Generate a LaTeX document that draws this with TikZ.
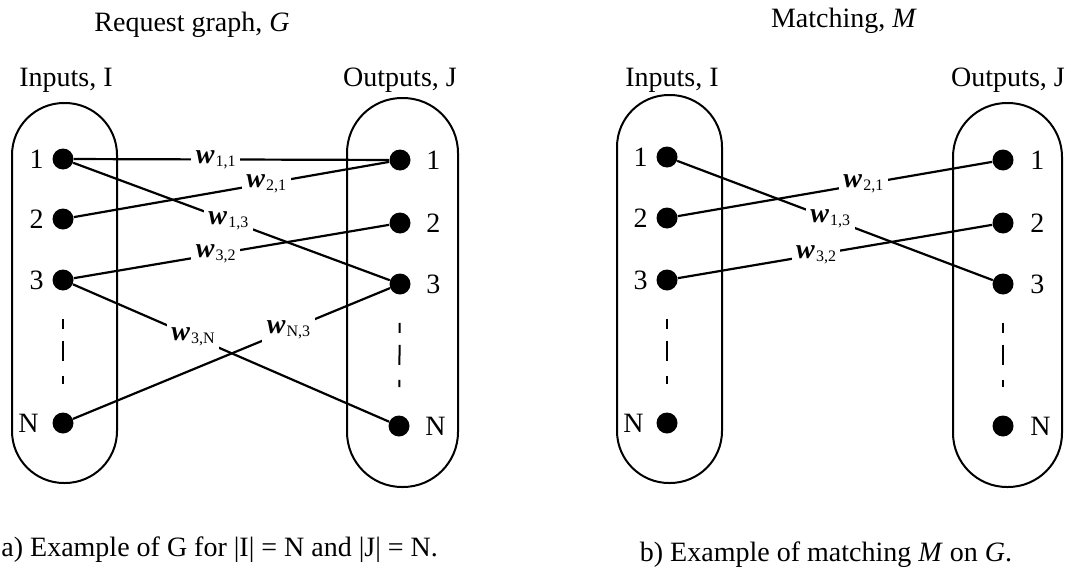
\documentclass[tikz,border=0pt]{standalone}
\usepackage{fontspec}
\setmainfont{Liberation Serif}
\newcommand\figfont{\fontsize{14pt}{16pt}\selectfont}
\newcommand\wlab[1]{{\bfseries\itshape w}\kern0.6pt\raisebox{-1.5pt}{\fontsize{8pt}{9pt}\selectfont #1}}
\begin{document}
\begin{tikzpicture}[x=0.5pt,y=-0.5pt,
  dot/.style={circle,fill=black,inner sep=0pt,minimum size=10.5pt},
  boxline/.style={draw,line width=1pt},
  edge/.style={line width=1.1pt},
  wl/.style={fill=white,inner sep=2.2pt,font=\figfont},
  ellip/.style={line width=1pt,dash pattern=on 5pt off 6pt on 10pt off 7.5pt on 5pt off 20pt,shorten <=14pt,shorten >=14pt},
  txt/.style={font=\figfont,inner sep=0pt},
]
\useasboundingbox (0,0) rectangle (1071,573);

% containers
\draw[boxline,rounded corners=26pt] (12,103) rectangle (117,483);
\draw[boxline,rounded corners=27.5pt] (347,98) rectangle (458,487);
\draw[boxline,rounded corners=26pt] (617,95) rectangle (722,483);
\draw[boxline,rounded corners=27pt] (953,103) rectangle (1062,487);

% titles
\node[txt,anchor=base] (t1) at (192,32) {Request graph, \textit{G}};
\node[txt,anchor=base] (t2) at (844,27) {Matching, \textit{M}};
\node[txt,anchor=base] (in1) at (66,86) {Inputs, I};
\node[txt,anchor=base] (out1) at (400,86) {Outputs, J};
\node[txt,anchor=base] (in2) at (672,86) {Inputs, I};
\node[txt,anchor=base] (out2) at (1008,86) {Outputs, J};

% nodes, panel a
\node[dot] (a1) at (63,159) {};
\node[dot] (a2) at (63,219) {};
\node[dot] (a3) at (63,280) {};
\node[dot] (aN) at (63,423) {};
\node[dot] (b1) at (400,160) {};
\node[dot] (b2) at (400,223) {};
\node[dot] (b3) at (400,284) {};
\node[dot] (bN) at (399,426) {};
% nodes, panel b
\node[dot] (c1) at (667,157) {};
\node[dot] (c2) at (667,218) {};
\node[dot] (c3) at (667,280) {};
\node[dot] (cN) at (667,423) {};
\node[dot] (d1) at (1003,160) {};
\node[dot] (d2) at (1003,223) {};
\node[dot] (d3) at (1003,284) {};
\node[dot] (dN) at (1003,426) {};

% node labels
\node[txt,anchor=east] (la1) at ([xshift=-4pt]a1.west) {1};
\node[txt,anchor=east] (la2) at ([xshift=-4pt]a2.west) {2};
\node[txt,anchor=east] (la3) at ([xshift=-4pt]a3.west) {3};
\node[txt,anchor=east] (laN) at ([xshift=-6.5pt]aN.west) {N};
\node[txt,anchor=west] (lb1) at ([xshift=7.5pt]b1.east) {1};
\node[txt,anchor=west] (lb2) at ([xshift=7.5pt]b2.east) {2};
\node[txt,anchor=west] (lb3) at ([xshift=7.5pt]b3.east) {3};
\node[txt,anchor=west] (lbN) at ([xshift=7.5pt]bN.east) {N};
\node[txt,anchor=east] (lc1) at ([xshift=-4pt]c1.west) {1};
\node[txt,anchor=east] (lc2) at ([xshift=-4pt]c2.west) {2};
\node[txt,anchor=east] (lc3) at ([xshift=-4pt]c3.west) {3};
\node[txt,anchor=east] (lcN) at ([xshift=-6pt]cN.west) {N};
\node[txt,anchor=west] (ld1) at ([xshift=8pt]d1.east) {1};
\node[txt,anchor=west] (ld2) at ([xshift=8pt]d2.east) {2};
\node[txt,anchor=west] (ld3) at ([xshift=8pt]d3.east) {3};
\node[txt,anchor=west] (ldN) at ([xshift=8pt]dN.east) {N};

% ellipses
\draw[ellip] (a3) -- (aN);
\draw[ellip] (b3) -- (bN);
\draw[ellip] (c3) -- (cN);
\draw[ellip] (d3) -- (dN);

% edges, panel a
\draw[edge] (a1) -- (b1) node[wl,pos=0.45] (w11) {\wlab{1,1}};
\draw[edge] (a2) -- (b1) node[wl,pos=0.61] (w21) {\wlab{2,1}};
\draw[edge] (a1) -- (b3) node[wl,pos=0.49] (w13) {\wlab{1,3}};
\draw[edge] (a3) -- (b2) node[wl,pos=0.45] (w32) {\wlab{3,2}};
\draw[edge] (a3) -- (bN) node[wl,pos=0.38] (w3N) {\wlab{3,N}};
\draw[edge] (aN) -- (b3) node[wl,pos=0.68] (wN3) {\wlab{N,3}};
% edges, panel b
\draw[edge] (c2) -- (d1) node[wl,pos=0.59] (m21) {\wlab{2,1}};
\draw[edge] (c1) -- (d3) node[wl,pos=0.485] (m13) {\wlab{1,3}};
\draw[edge] (c3) -- (d2) node[wl,pos=0.44] (m32) {\wlab{3,2}};

% captions
\node[txt,anchor=base west] (cap1) at (1,556) {a) Example of G for |I| = N and |J| = N.};
\node[txt,anchor=base] (cap2) at (826,561) {b) Example of matching \textit{M} on \textit{G}.};
\end{tikzpicture}
\end{document}
